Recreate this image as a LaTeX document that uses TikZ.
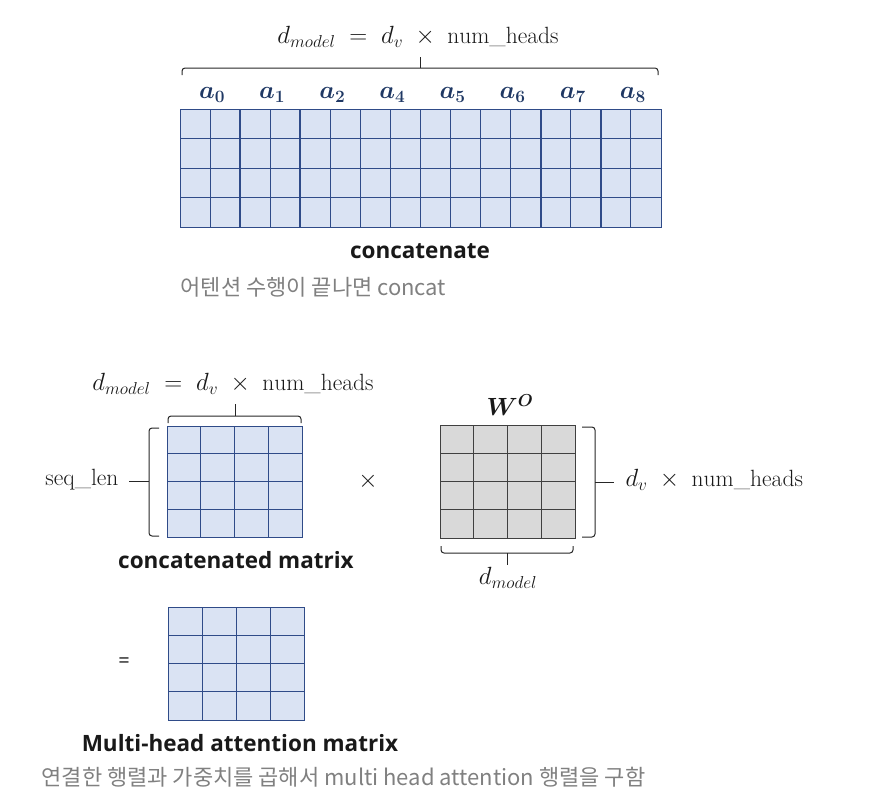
\documentclass[tikz,border=0pt]{standalone}
\usepackage{fontspec}
\usepackage{bm}
\newfontfamily\krfont{Noto Sans CJK KR}
\newfontfamily\labfont{Open Sans}
\definecolor{bfill}{HTML}{DAE3F3}
\definecolor{bline}{HTML}{2F4B88}
\definecolor{navy}{HTML}{1F3864}
\definecolor{gfill}{HTML}{D9D9D9}
\definecolor{gline}{HTML}{404040}
\definecolor{notec}{HTML}{808080}
\tikzset{
  bluemat/.style={draw=bline, fill=bfill, line width=1pt, inner sep=0pt, outer sep=0pt, anchor=north west},
  graymat/.style={draw=gline, fill=gfill, line width=1pt, inner sep=0pt, outer sep=0pt, anchor=north west},
  thinb/.style={draw=bline, line width=0.9pt},
  thickb/.style={draw=bline, line width=1.7pt},
  thing/.style={draw=gline, line width=0.9pt},
  bracel/.style={draw=black!85, line width=1pt, rounded corners=3pt},
  mathlab/.style={font=\fontsize{23.5}{28}\selectfont, text=black!90},
  alab/.style={font=\fontsize{23}{27}\selectfont, text=navy},
  boldlab/.style={font=\labfont\bfseries\fontsize{22.5}{27}\selectfont, text=black!90},
  notelab/.style={font=\krfont\fontsize{22}{26}\selectfont, text=notec, anchor=west},
}
\begin{document}
\begin{tikzpicture}[x=1pt,y=-1pt]
\useasboundingbox (0,0) rectangle (896,803);

% ---------- top concatenated matrix ----------
\node[bluemat, minimum width=481pt, minimum height=118pt] (top) at (180,109) {};
\foreach \i in {1,3,...,15} \draw[thinb] ({180+\i*30.0625},109) -- ({180+\i*30.0625},227);
\foreach \i in {2,4,...,14} \draw[thickb] ({180+\i*30.0625},109) -- ({180+\i*30.0625},227);
\foreach \j in {1,2,3} \draw[thinb] (180,{109+\j*29.5}) -- (661,{109+\j*29.5});

\foreach \i/\s in {0/0,1/1,2/2,3/4,4/5,5/6,6/7,7/8}
  \node[alab] (a\i) at ({212+\i*60.125},95) {$\bm{a_{\s}}$};

\draw[bracel] (182,75) -- (182,68) -- (658,68) -- (658,75);
\draw[bracel] (420,68) -- (420,57);
\node[mathlab] (t1) at (418,37) {$d_{model}\;=\;d_v\;\times\;\mathrm{num\_heads}$};

\node[boldlab] (cat) at (420,251) {concatenate};
\node[notelab] (n1) at (177,287) {어텐션 수행이 끝나면 concat};

% ---------- concatenated matrix ----------
\node[bluemat, minimum width=135pt, minimum height=111pt] (cm) at (167,426) {};
\foreach \i in {1,2,3} \draw[thinb] ({167+\i*33.75},426) -- ({167+\i*33.75},537);
\foreach \j in {1,2,3} \draw[thinb] (167,{426+\j*27.75}) -- (302,{426+\j*27.75});

\draw[bracel] (168,423) -- (168,416) -- (301,416) -- (301,423);
\draw[bracel] (235,416) -- (235,404);
\node[mathlab] (t2) at (233,384) {$d_{model}\;=\;d_v\;\times\;\mathrm{num\_heads}$};

\draw[bracel] (159,428) -- (149,428) -- (149,536) -- (159,536);
\draw[bracel] (149,481) -- (129,481);
\node[mathlab, anchor=east] (seq) at (122,480) {seq\_len};

\node[mathlab] (times) at (368,481) {$\times$};
\node[boldlab] (cml) at (236,560) {concatenated matrix};

% ---------- W^O ----------
\node[graymat, minimum width=135pt, minimum height=113pt] (w) at (440,425) {};
\foreach \i in {1,2,3} \draw[thing] ({440+\i*33.75},425) -- ({440+\i*33.75},538);
\foreach \j in {1,2,3} \draw[thing] (440,{425+\j*28.25}) -- (575,{425+\j*28.25});
\node[mathlab] (wo) at (510,405) {$\bm{W^{O}}$};

\draw[bracel] (582,427) -- (595,427) -- (595,537) -- (582,537);
\draw[bracel] (595,482) -- (614,482);
\node[mathlab, anchor=west] (dvh) at (622,480) {$d_v\;\times\;\mathrm{num\_heads}$};

\draw[bracel] (441,546) -- (441,553) -- (573,553) -- (573,546);
\draw[bracel] (507,553) -- (507,565);
\node[mathlab] (dm) at (508,578) {$d_{model}$};

% ---------- result ----------
\node[font=\labfont\fontsize{20}{24}\selectfont, text=black!90] (eq) at (124,663) {=};
\node[bluemat, minimum width=136pt, minimum height=113pt] (res) at (168,607) {};
\foreach \i in {1,2,3} \draw[thinb] ({168+\i*34},607) -- ({168+\i*34},720);
\foreach \j in {1,2,3} \draw[thinb] (168,{607+\j*28.25}) -- (304,{607+\j*28.25});

\node[boldlab] (rl) at (240,743) {Multi-head attention matrix};
\node[notelab] (n2) at (38,777) {연결한 행렬과 가중치를 곱해서 multi head attention 행렬을 구함};
\end{tikzpicture}
\end{document}
